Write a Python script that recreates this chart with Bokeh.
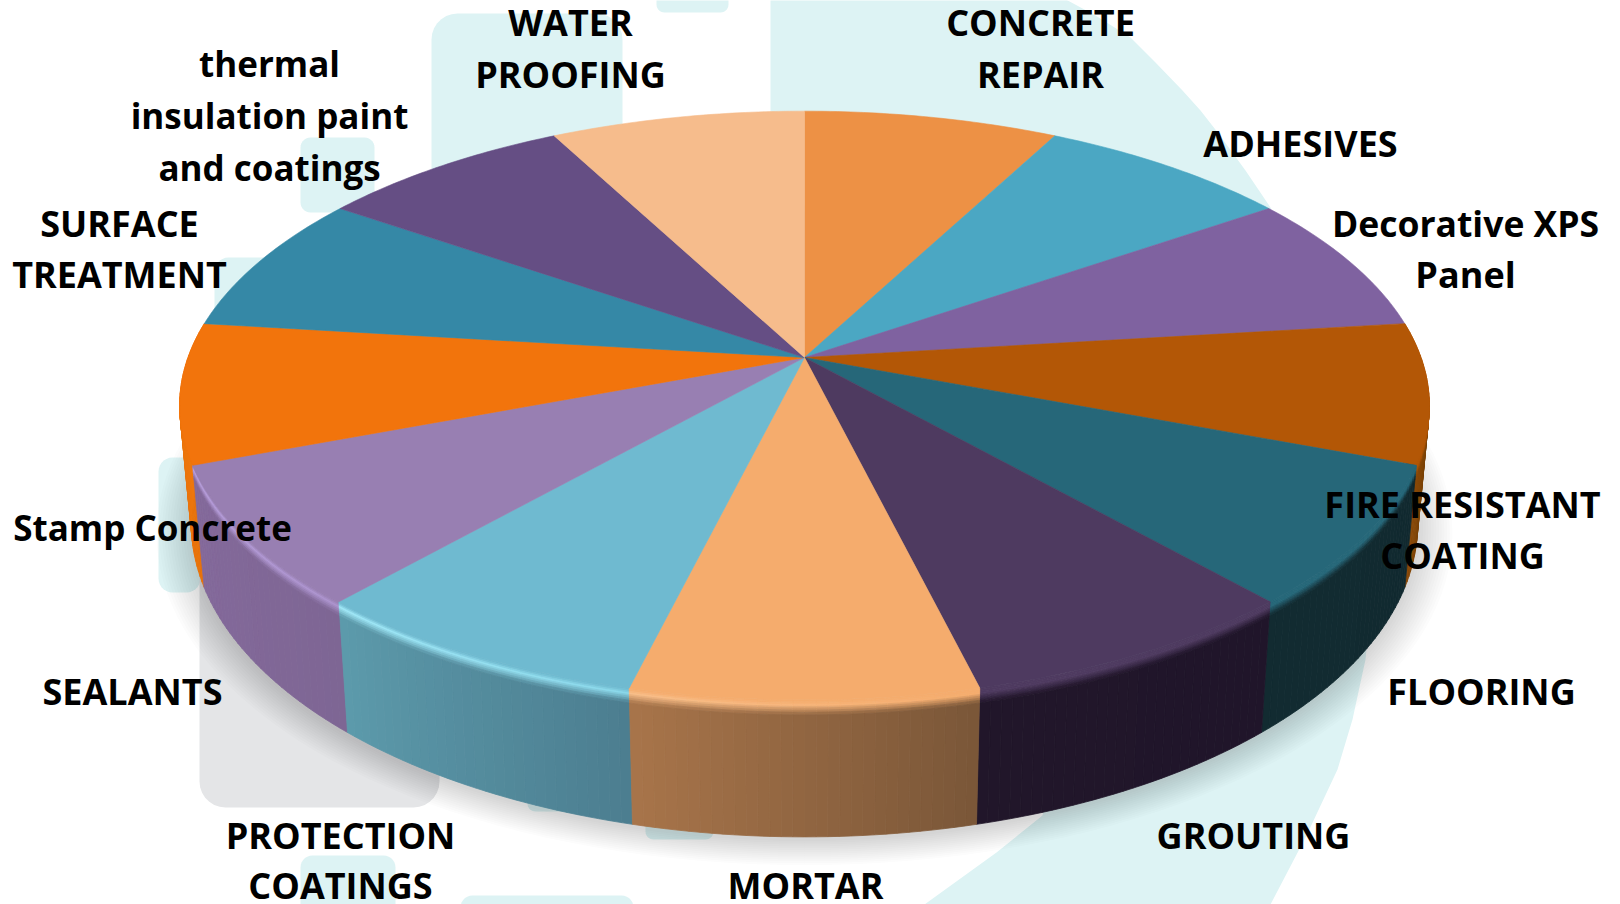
import numpy as np
from bokeh.plotting import figure
from bokeh.models import Range1d
from bokeh.core.properties import value
from bokeh.embed import file_html
from bokeh.resources import INLINE

# ---- data -------------------------------------------------------------
slice_names = ["CONCRETE REPAIR", "ADHESIVES", "Decorative XPS Panel", "FIRE RESISTANT COATING",
               "FLOORING", "GROUTING", "MORTAR", "PROTECTION COATINGS", "SEALANTS",
               "Stamp Concrete", "SURFACE TREATMENT", "thermal insulation paint and coatings",
               "WATER PROOFING"]
slice_values = [1, 1, 1, 1, 1, 1, 1, 1, 1, 1, 1, 1, 1]

# ---- styles -----------------------------------------------------------
top_colors = ["#ED9145", "#4BA7C3", "#7F62A0", "#B35706", "#266779", "#4E3A60", "#F5AC6D",
              "#6FBAD0", "#987FB2", "#F2740C", "#3588A6", "#654E84", "#F6BC8C"]
# wall colours (screen left, screen right) and rim highlight (screen left, screen right)
wall_colors = {3: ("#8A4A08", "#4A2800"), 4: ("#122B31", "#112A30"), 5: ("#21162A", "#20152A"),
               6: ("#A8754A", "#7A5638"), 7: ("#5C9AAB", "#4C7E90"), 8: ("#84699B", "#7E6694"),
               9: ("#F07A0E", "#E8720A")}
rim_colors = {3: ("#B35706", "#7A4000"), 4: ("#266779", "#266779"), 5: ("#4E3A60", "#4E3A60"),
              6: ("#F9BE88", "#F5AC6D"), 7: ("#A0E8F8", "#8AD8EA"), 8: ("#B9A0DE", "#AC93CE"),
              9: ("#FF8A14", "#F2740C")}
label_lines = [("CONCRETE", 1040, 36, 36), ("REPAIR", 1040, 88, 36), ("ADHESIVES", 1300, 157, 36),
               ("Decorative XPS", 1465, 237, 35.5), ("Panel", 1465, 288, 36),
               ("FIRE RESISTANT", 1462, 518, 36), ("COATING", 1462, 569, 36),
               ("FLOORING", 1481, 705, 36), ("GROUTING", 1253, 849, 36), ("MORTAR", 805, 899, 36),
               ("PROTECTION", 340, 849, 36), ("COATINGS", 340, 899, 36), ("SEALANTS", 132, 705, 36),
               ("Stamp Concrete", 152, 541, 35), ("SURFACE", 119, 237, 36),
               ("TREATMENT", 119, 288, 36), ("thermal", 269, 77, 35),
               ("insulation paint", 269, 129, 35), ("and coatings", 269, 181, 35),
               ("WATER", 570, 36, 36), ("PROOFING", 570, 88, 36)]
TEAL, GRAY = "#DDF3F4", "#E4E5E7"
teal_boxes = [(656, -20, 728, 12, 8), (300, 137, 374, 212, 10), (214, 257, 300, 340, 14),
              (158, 457, 200, 592, 14), (431, 13, 622, 200, 26), (645, 700, 713, 839, 8),
              (527, 700, 600, 811, 8), (300, 855, 395, 930, 12), (460, 895, 633, 930, 12)]
gray_box = (199, 450, 439, 807, 26)
crescent = [(770, -5), (1058, -5), (1095, 15), (1130, 37), (1155, 62), (1182, 90), (1200, 110),
            (1218, 133), (1245, 170), (1270, 207), (1380, 500), (1365, 659), (1352, 719),
            (1337, 769), (1306, 835), (1270, 904), (924, 904), (996, 852), (1042, 815),
            (1100, 600), (770, 300)]

# ---- projection -------------------------------------------------------
CX, CY, A, B, K = 804.0, 357.0, 616.5, 286.5, 0.163          # top face
CY2, A2, B2 = 472.0, 605.0, 305.0                            # bottom face


def proj(theta, r=1.0, bottom=False):
    u, v = r * np.sin(theta), r * np.cos(theta)
    a, b, c = (A2, B2, CY2) if bottom else (A, B, CY)
    d = 1 + K * v
    return CX + a * u / d, c - b * v / d


def hx(c):
    return np.array([int(c[i:i + 2], 16) for i in (1, 3, 5)], float)


def mix(c1, c2, t):
    m = hx(c1) * (1 - t) + hx(c2) * t
    return "#%02x%02x%02x" % tuple(int(round(x)) for x in m)


def rbox(x0, y0, x1, y1, r):
    xs, ys = [], []
    for cx, cy, a0 in ((x0 + r, y0 + r, np.pi), (x1 - r, y0 + r, 1.5 * np.pi),
                       (x1 - r, y1 - r, 0), (x0 + r, y1 - r, .5 * np.pi)):
        t = np.linspace(a0, a0 + np.pi / 2, 8)
        xs += list(cx + r * np.cos(t))
        ys += list(cy + r * np.sin(t))
    return xs, ys


p = figure(width=1620, height=904, x_range=Range1d(0, 1620), y_range=Range1d(904, 0),
           output_backend="svg", toolbar_location=None, x_axis_type=None, y_axis_type=None,
           min_border=0, outline_line_color=None, background_fill_color="white",
           border_fill_color="white")
p.grid.visible = False

# watermark
p.patch([q[0] for q in crescent], [q[1] for q in crescent], fill_color=TEAL, line_color=None)
boxes = [rbox(*b) for b in teal_boxes]
p.patches([b[0] for b in boxes], [b[1] for b in boxes], fill_color=TEAL, line_color=None)
gb = rbox(*gray_box)
p.patch(gb[0], gb[1], fill_color=GRAY, line_color=None)

# soft shadow
ring = np.linspace(0, 2 * np.pi, 181)
for r in np.linspace(1.055, 1.0, 14):
    sx, sy = proj(ring, r, bottom=True)
    p.patch(sx, sy + 4, fill_color="#30383c", fill_alpha=0.016, line_color=None)

# pie geometry from the values
vals = np.array(slice_values, float)
edges = np.concatenate([[0], np.cumsum(vals)]) / vals.sum() * 2 * np.pi

# side walls, outer ones first
rows = [0, .012, .024, .036, .048, .06, .075, .09, .11, 1]
STEPS = 30
wx, wy, wc = [], [], []
for i in (3, 9, 4, 8, 5, 7, 6):
    th = np.linspace(edges[i], edges[i + 1], STEPS + 1)
    tx, ty = proj(th)
    bx, by = proj(th, bottom=True)
    for s in range(STEPS):
        a = 1 - (s + .5) / STEPS  # 0 = screen left
        wall = mix(*wall_colors[i], a)
        rim = mix(*rim_colors[i], a)
        for j in range(len(rows) - 1):
            t0, t1 = rows[j], rows[j + 1]
            tm = (t0 + t1) / 2
            if tm < .012:
                col = top_colors[i]
            elif tm < .042:
                col = mix(top_colors[i], rim, (tm - .012) / .03)
            elif tm < .11:
                col = mix(rim, wall, (tm - .042) / .068)
            else:
                col = wall
            xs = [tx[s] + (bx[s] - tx[s]) * t0, tx[s + 1] + (bx[s + 1] - tx[s + 1]) * t0,
                  tx[s + 1] + (bx[s + 1] - tx[s + 1]) * t1, tx[s] + (bx[s] - tx[s]) * t1]
            ys = [ty[s] + (by[s] - ty[s]) * t0, ty[s + 1] + (by[s + 1] - ty[s + 1]) * t0,
                  ty[s + 1] + (by[s + 1] - ty[s + 1]) * t1, ty[s] + (by[s] - ty[s]) * t1]
            wx.append(xs); wy.append(ys); wc.append(col)
p.patches(wx, wy, fill_color=wc, line_color=wc, line_width=0.8)

# top face
fx, fy = [], []
for i in range(len(vals)):
    th = np.linspace(edges[i], edges[i + 1], 40)
    x, y = proj(th)
    fx.append([CX] + list(x))
    fy.append([CY] + list(y))
p.patches(fx, fy, fill_color=top_colors, line_color=top_colors, line_width=0.6)

# labels
p.text([q[1] for q in label_lines], [q[2] for q in label_lines], text=[q[0] for q in label_lines],
       y_offset=-14.5, text_font=value("Open Sans"), text_font_style="bold",
       text_font_size=["%gpx" % q[3] for q in label_lines], text_color="black",
       text_align="center", text_baseline="alphabetic")

open("out.html", "w").write(file_html(p, INLINE))
